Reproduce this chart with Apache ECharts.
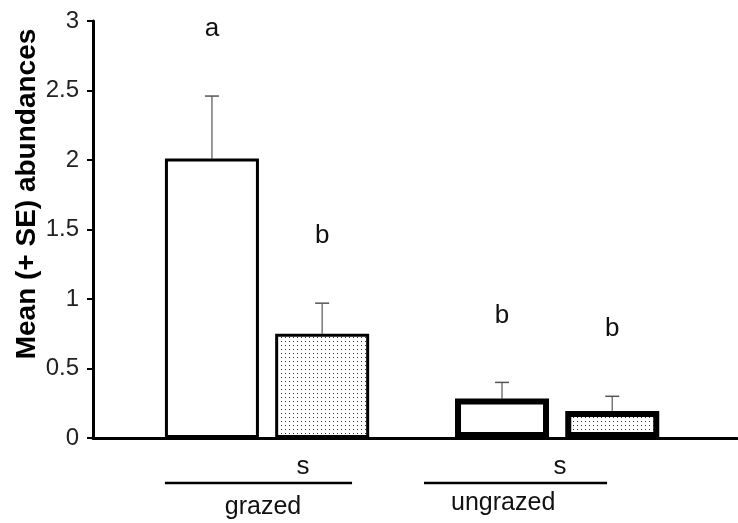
<!DOCTYPE html>
<html>
<head>
<meta charset="utf-8">
<script src="https://cdn.jsdelivr.net/npm/echarts@6/dist/echarts.min.js"></script>
<style>
  html, body { margin: 0; padding: 0; background: #fff; }
  #main { width: 738px; height: 523px; }
</style>
</head>
<body>
<div id="main"></div>
<script>
// groups on the x axis
const groups = ['grazed', 'ungrazed'];
// open bars
const openMean = [2.01, 0.285];
const openSE = [0.45, 0.115];
const openLetters = ['a', 'b'];
// stippled bars
const dotMean = [0.75, 0.195];
const dotSE = [0.22, 0.105];
const dotLetters = ['b', 'b'];
// y ticks
const yMin = 0, yMax = 3, yStep = 0.5;

// layout (x axis units, group i sits at i)
const barShift = 0.19;
const borderW = [3, 6];
const sPos = [0.124, 1.01];
const lineSpan = [[-0.352, 0.293], [0.541, 1.172]];
const namePos = [-0.014, 0.814];
const nameY = [507, 503];
const FONT = 'Liberation Sans, Arial, sans-serif';

// dotted fill
const pat = document.createElement('canvas');
pat.width = 4; pat.height = 4;
const pctx = pat.getContext('2d');
pctx.fillStyle = '#fff';
pctx.fillRect(0, 0, 4, 4);
pctx.fillStyle = '#333';
pctx.fillRect(1, 1, 1, 1);

const myChart = echarts.init(document.getElementById('main'));

function barData(means, shift) {
  return groups.map((g, i) => ({
    value: [i + shift, means[i]],
    itemStyle: { borderWidth: borderW[i] }
  }));
}
function errData(means, se, letters, shift) {
  return groups.map((g, i) => [i + shift, means[i], se[i], letters[i]]);
}

// error bar + letter above it
function renderErr(params, api) {
  const x = api.value(0);
  const base = api.coord([x, api.value(1)]);
  const top = api.coord([x, api.value(1) + api.value(2)]);
  const txt = api.value(3);
  return {
    type: 'group',
    children: [
      { type: 'line', shape: { x1: base[0], y1: base[1], x2: top[0], y2: top[1] },
        style: { stroke: '#777', lineWidth: 1.5 } },
      { type: 'line', shape: { x1: top[0] - 7, y1: top[1], x2: top[0] + 7, y2: top[1] },
        style: { stroke: '#555', lineWidth: 1.5 } },
      { type: 'text', x: top[0], y: top[1] - 67,
        style: { text: String(txt), fill: '#111', font: '26px ' + FONT,
          align: 'center', verticalAlign: 'middle', textAlign: 'center', textVerticalAlign: 'middle' } }
    ]
  };
}

const option = {
  animation: false,
  grid: { left: 93, right: 1, top: 21, bottom: 85 },
  xAxis: {
    type: 'value', min: -0.6, max: 1.62,
    axisLine: { show: true, onZero: false, lineStyle: { color: '#000', width: 3 } },
    axisTick: { show: false }, axisLabel: { show: false }, splitLine: { show: false }
  },
  yAxis: {
    type: 'value', min: yMin, max: yMax, interval: yStep,
    axisLine: { show: true, onZero: false, lineStyle: { color: '#000', width: 3 } },
    axisTick: { show: true, length: 6, lineStyle: { color: '#000', width: 2 } },
    axisLabel: { color: '#222', fontSize: 24, fontFamily: FONT, margin: 14 },
    splitLine: { show: false }
  },
  series: [
    { type: 'custom', name: 'se open', renderItem: renderErr, z: 1, silent: true,
      data: errData(openMean, openSE, openLetters, -barShift) },
    { type: 'custom', name: 'se dotted', renderItem: renderErr, z: 1, silent: true,
      data: errData(dotMean, dotSE, dotLetters, barShift) },
    { type: 'bar', name: 'open', barWidth: 94, barGap: '-100%', z: 3, silent: true,
      itemStyle: { color: '#fff', borderColor: '#000' },
      data: barData(openMean, -barShift) },
    { type: 'bar', name: 'dotted', barWidth: 94, barGap: '-100%', z: 3, silent: true,
      itemStyle: { color: { image: pat, repeat: 'repeat' }, borderColor: '#000' },
      data: barData(dotMean, barShift) }
  ]
};
myChart.setOption(option);

// title and group annotations under the axis
const px = u => myChart.convertToPixel({ xAxisIndex: 0 }, u);
const graphics = [{
  type: 'text', x: 27, y: 194, rotation: Math.PI / 2,
  style: { text: 'Mean (+ SE) abundances', fill: '#000', font: 'bold 28px ' + FONT,
    align: 'center', verticalAlign: 'middle', textAlign: 'center', textVerticalAlign: 'middle' }
}];
groups.forEach((g, i) => {
  graphics.push({
    type: 'text', x: px(sPos[i]), y: 467,
    style: { text: 's', fill: '#111', font: '26px ' + FONT,
      align: 'center', verticalAlign: 'middle', textAlign: 'center', textVerticalAlign: 'middle' }
  });
  graphics.push({
    type: 'line', shape: { x1: px(lineSpan[i][0]), y1: 483, x2: px(lineSpan[i][1]), y2: 483 },
    style: { stroke: '#000', lineWidth: 2.5 }
  });
  graphics.push({
    type: 'text', x: px(namePos[i]), y: nameY[i],
    style: { text: g, fill: '#111', font: '25px ' + FONT,
      align: 'center', verticalAlign: 'middle', textAlign: 'center', textVerticalAlign: 'middle' }
  });
});
myChart.setOption({ graphic: graphics });
</script>
</body>
</html>
